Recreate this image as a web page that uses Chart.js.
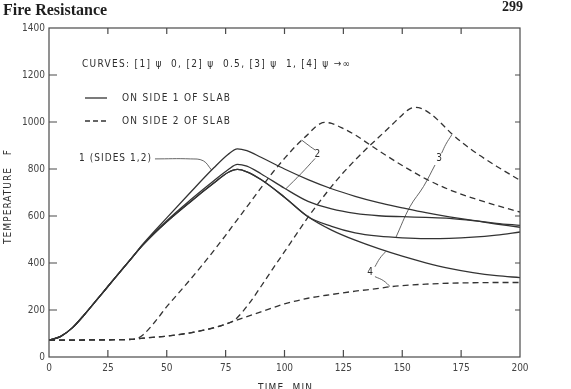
<!DOCTYPE html>
<html>
<head>
<meta charset="utf-8">
<script src="https://cdn.jsdelivr.net/npm/chart.js@4.4.1/dist/chart.umd.min.js"></script>
<style>
  body { margin: 0; background: #fff; }
  .page { position: relative; width: 571px; height: 389px; overflow: hidden; background: #fff; }
  #chart { position: absolute; left: 0; top: 0; }
  .head { position: absolute; font-family: 'Liberation Serif', 'Times New Roman', serif; font-weight: bold; color: #1e1e1e; white-space: nowrap; }
</style>
</head>
<body>
<div class="page">
  <canvas id="chart" width="571" height="389"></canvas>
  <div class="head" style="left:3px; top:1px; font-size:16px;">Fire Resistance</div>
  <div class="head" style="left:502px; top:-1px; font-size:14px;">299</div>
</div>
<script>
// side 1 curves (solid), time in minutes
const timeSide1 = [0, 5, 10, 15, 20, 25, 30, 35, 40, 50, 60, 70, 76, 80, 84, 90, 100, 110, 120, 130, 140, 150, 160, 170, 180, 190, 200];
const curve1Side1 = [72, 88, 125, 180, 240, 300, 360, 420, 482, 592, 700, 805, 862, 886, 878, 850, 800, 755, 716, 684, 657, 635, 614, 596, 581, 569, 560];
const curve2Side1 = [72, 88, 125, 180, 240, 300, 360, 420, 478, 580, 668, 750, 797, 820, 812, 780, 718, 662, 630, 611, 601, 597, 594, 590, 580, 566, 552];
const curve3Side1 = [72, 88, 125, 180, 240, 300, 360, 420, 478, 575, 660, 740, 785, 798, 788, 755, 680, 597, 556, 528, 514, 507, 504, 505, 510, 519, 532];
const curve4Side1 = [72, 88, 125, 180, 240, 300, 360, 420, 478, 575, 660, 740, 785, 798, 788, 755, 680, 597, 540, 497, 461, 429, 401, 377, 359, 346, 338];

// side 2 curves (dashed)
const timeCurve2Side2 = [0, 10, 20, 30, 35, 37, 40, 45, 50, 55, 60, 65, 70, 75, 80, 85, 90, 95, 100, 105, 110, 113, 115, 117, 120, 125, 130, 136, 140, 150, 160, 170, 180, 190, 200];
const curve2Side2 = [72, 72, 73, 74, 75, 77, 95, 150, 214, 272, 330, 390, 453, 518, 585, 652, 720, 785, 845, 900, 948, 978, 992, 998, 994, 972, 945, 905, 878, 815, 758, 712, 676, 645, 617];
const timeCurve3Side2 = [0, 10, 20, 30, 35, 40, 50, 60, 70, 75, 78, 80, 85, 90, 95, 100, 105, 110, 115, 120, 125, 130, 135, 140, 145, 150, 153, 155, 158, 162, 166, 171, 180, 190, 200];
const curve3Side2 = [72, 72, 73, 74, 75, 80, 89, 103, 125, 140, 152, 168, 228, 300, 375, 448, 522, 595, 662, 726, 785, 838, 888, 935, 982, 1030, 1055, 1062, 1058, 1035, 1000, 950, 878, 812, 752];
const timeCurve4Side2 = [0, 10, 20, 30, 35, 40, 50, 60, 70, 75, 80, 90, 100, 110, 120, 130, 140, 145, 150, 160, 170, 180, 190, 200];
const curve4Side2 = [72, 72, 73, 74, 75, 80, 89, 103, 124, 140, 158, 192, 226, 250, 266, 280, 292, 299, 304, 310, 314, 316, 317, 317];

const xTickValues = [0, 25, 50, 75, 100, 125, 150, 175, 200];
const yTickValues = [0, 200, 400, 600, 800, 1000, 1200, 1400];

// leader lines for the curve labels (data units)
const leaderSides = [[45, 843], [60, 843], [65.5, 835], [69, 796]];
const leader2Top = [[107.3, 923], [111, 895], [113, 881]];
const leader2Low = [[113, 845], [107, 780], [100.6, 716]];
const leader3Top = [[166.7, 867], [168.5, 905], [171, 945]];
const leader3Low = [[163.9, 817], [159, 725], [153.3, 640], [147.3, 509]];
const leader4Top = [[138.4, 384], [140.5, 420], [143, 449]];
const leader4Low = [[138.4, 342], [142, 325], [144.8, 300]];
const curveLabels = [['2', 114, 862], ['3', 165.7, 845], ['4', 136.3, 359]];

const ink = '#333';
const lightFont = "'DejaVu Sans Condensed', 'Liberation Sans Narrow', 'DejaVu Sans', sans-serif";

const pts = (xs, ys) => xs.map((x, i) => ({ x, y: ys[i] }));
const pairs = arr => arr.map(p => ({ x: p[0], y: p[1] }));

const solid = (xs, ys) => ({ data: pts(xs, ys), borderColor: ink, borderWidth: 1.3, pointRadius: 0, cubicInterpolationMode: 'monotone', fill: false });
const dashed = (xs, ys) => ({ data: pts(xs, ys), borderColor: ink, borderWidth: 1.3, borderDash: [6, 4], pointRadius: 0, cubicInterpolationMode: 'monotone', fill: false });
const leader = arr => ({ data: pairs(arr), borderColor: '#555', borderWidth: 0.9, pointRadius: 0, tension: 0.4, fill: false });

function spacedText(ctx, text, x, y, width) {
  ctx.letterSpacing = '0px';
  const w = ctx.measureText(text).width;
  const n = [...text].length;
  const ls = Math.max(0, (width - w) / Math.max(1, n - 1));
  ctx.letterSpacing = ls + 'px';
  ctx.textAlign = 'left';
  ctx.fillText(text, x, y);
  ctx.letterSpacing = '0px';
}

const framePlugin = {
  id: 'frame',
  afterDatasetsDraw(chart) {
    const { ctx, chartArea: a, scales: { x, y } } = chart;
    ctx.save();
    ctx.strokeStyle = '#4a4a4a';
    ctx.lineWidth = 1.2;
    ctx.strokeRect(a.left, a.top, a.right - a.left, a.bottom - a.top);
    ctx.beginPath();
    xTickValues.slice(1, -1).forEach(v => {
      const px = x.getPixelForValue(v);
      ctx.moveTo(px, a.bottom); ctx.lineTo(px, a.bottom - 7);
      ctx.moveTo(px, a.top); ctx.lineTo(px, a.top + 6);
    });
    yTickValues.slice(1, -1).forEach(v => {
      const py = y.getPixelForValue(v);
      ctx.moveTo(a.left, py); ctx.lineTo(a.left + 8, py);
      ctx.moveTo(a.right, py); ctx.lineTo(a.right - 5, py);
    });
    ctx.stroke();

    // legend inside the plot
    ctx.fillStyle = '#2e2e2e';
    ctx.textBaseline = 'middle';
    ctx.font = '10px ' + lightFont;
    spacedText(ctx, 'CURVES: [1] ψ  0, [2] ψ  0.5, [3] ψ  1, [4] ψ →∞', 82, 64, 268);
    spacedText(ctx, 'ON SIDE 1 OF SLAB', 122, 98, 108);
    spacedText(ctx, 'ON SIDE 2 OF SLAB', 122, 121, 108);
    ctx.strokeStyle = ink;
    ctx.lineWidth = 1.3;
    ctx.beginPath(); ctx.moveTo(85, 98); ctx.lineTo(107, 98); ctx.stroke();
    ctx.setLineDash([5, 3]);
    ctx.beginPath(); ctx.moveTo(85, 121); ctx.lineTo(108, 121); ctx.stroke();
    ctx.setLineDash([]);

    // curve labels
    const sx = x.getPixelForValue(leaderSides[0][0]);
    const sy = y.getPixelForValue(leaderSides[0][1]);
    spacedText(ctx, '1 (SIDES 1,2)', sx - 76, sy, 72);
    ctx.textAlign = 'center';
    curveLabels.forEach(([t, vx, vy]) => {
      ctx.fillText(t, x.getPixelForValue(vx), y.getPixelForValue(vy));
    });

    // axis titles
    ctx.save();
    ctx.translate(8, 244);
    ctx.rotate(-Math.PI / 2);
    spacedText(ctx, 'TEMPERATURE   F', 0, 0, 94);
    ctx.restore();
    ctx.textBaseline = 'alphabetic';
    spacedText(ctx, 'TIME  MIN', 258, 391, 54);
    ctx.restore();
  }
};

new Chart(document.getElementById('chart'), {
  type: 'line',
  data: {
    datasets: [
      solid(timeSide1, curve1Side1),
      solid(timeSide1, curve2Side1),
      solid(timeSide1, curve3Side1),
      solid(timeSide1, curve4Side1),
      dashed(timeCurve2Side2, curve2Side2),
      dashed(timeCurve3Side2, curve3Side2),
      dashed(timeCurve4Side2, curve4Side2),
      leader(leaderSides),
      leader(leader2Top),
      leader(leader2Low),
      leader(leader3Top),
      leader(leader3Low),
      leader(leader4Top),
      leader(leader4Low)
    ]
  },
  options: {
    responsive: false,
    animation: false,
    layout: { padding: { top: 28, right: 51, left: 0, bottom: 0 } },
    plugins: { legend: { display: false }, tooltip: { enabled: false } },
    scales: {
      x: {
        type: 'linear', min: 0, max: 200,
        ticks: { stepSize: 25, padding: 5, color: '#444', font: { family: lightFont, size: 10 }, maxRotation: 0, callback: v => String(v) },
        grid: { display: false, drawTicks: false },
        border: { display: false },
        afterFit(scale) { scale.height = 32; }
      },
      y: {
        min: 0, max: 1400,
        ticks: { stepSize: 200, padding: 4, color: '#444', font: { family: lightFont, size: 10 }, callback: v => String(v) },
        grid: { display: false, drawTicks: false },
        border: { display: false },
        afterFit(scale) { scale.width = 49; }
      }
    }
  },
  plugins: [framePlugin]
});
</script>
</body>
</html>
